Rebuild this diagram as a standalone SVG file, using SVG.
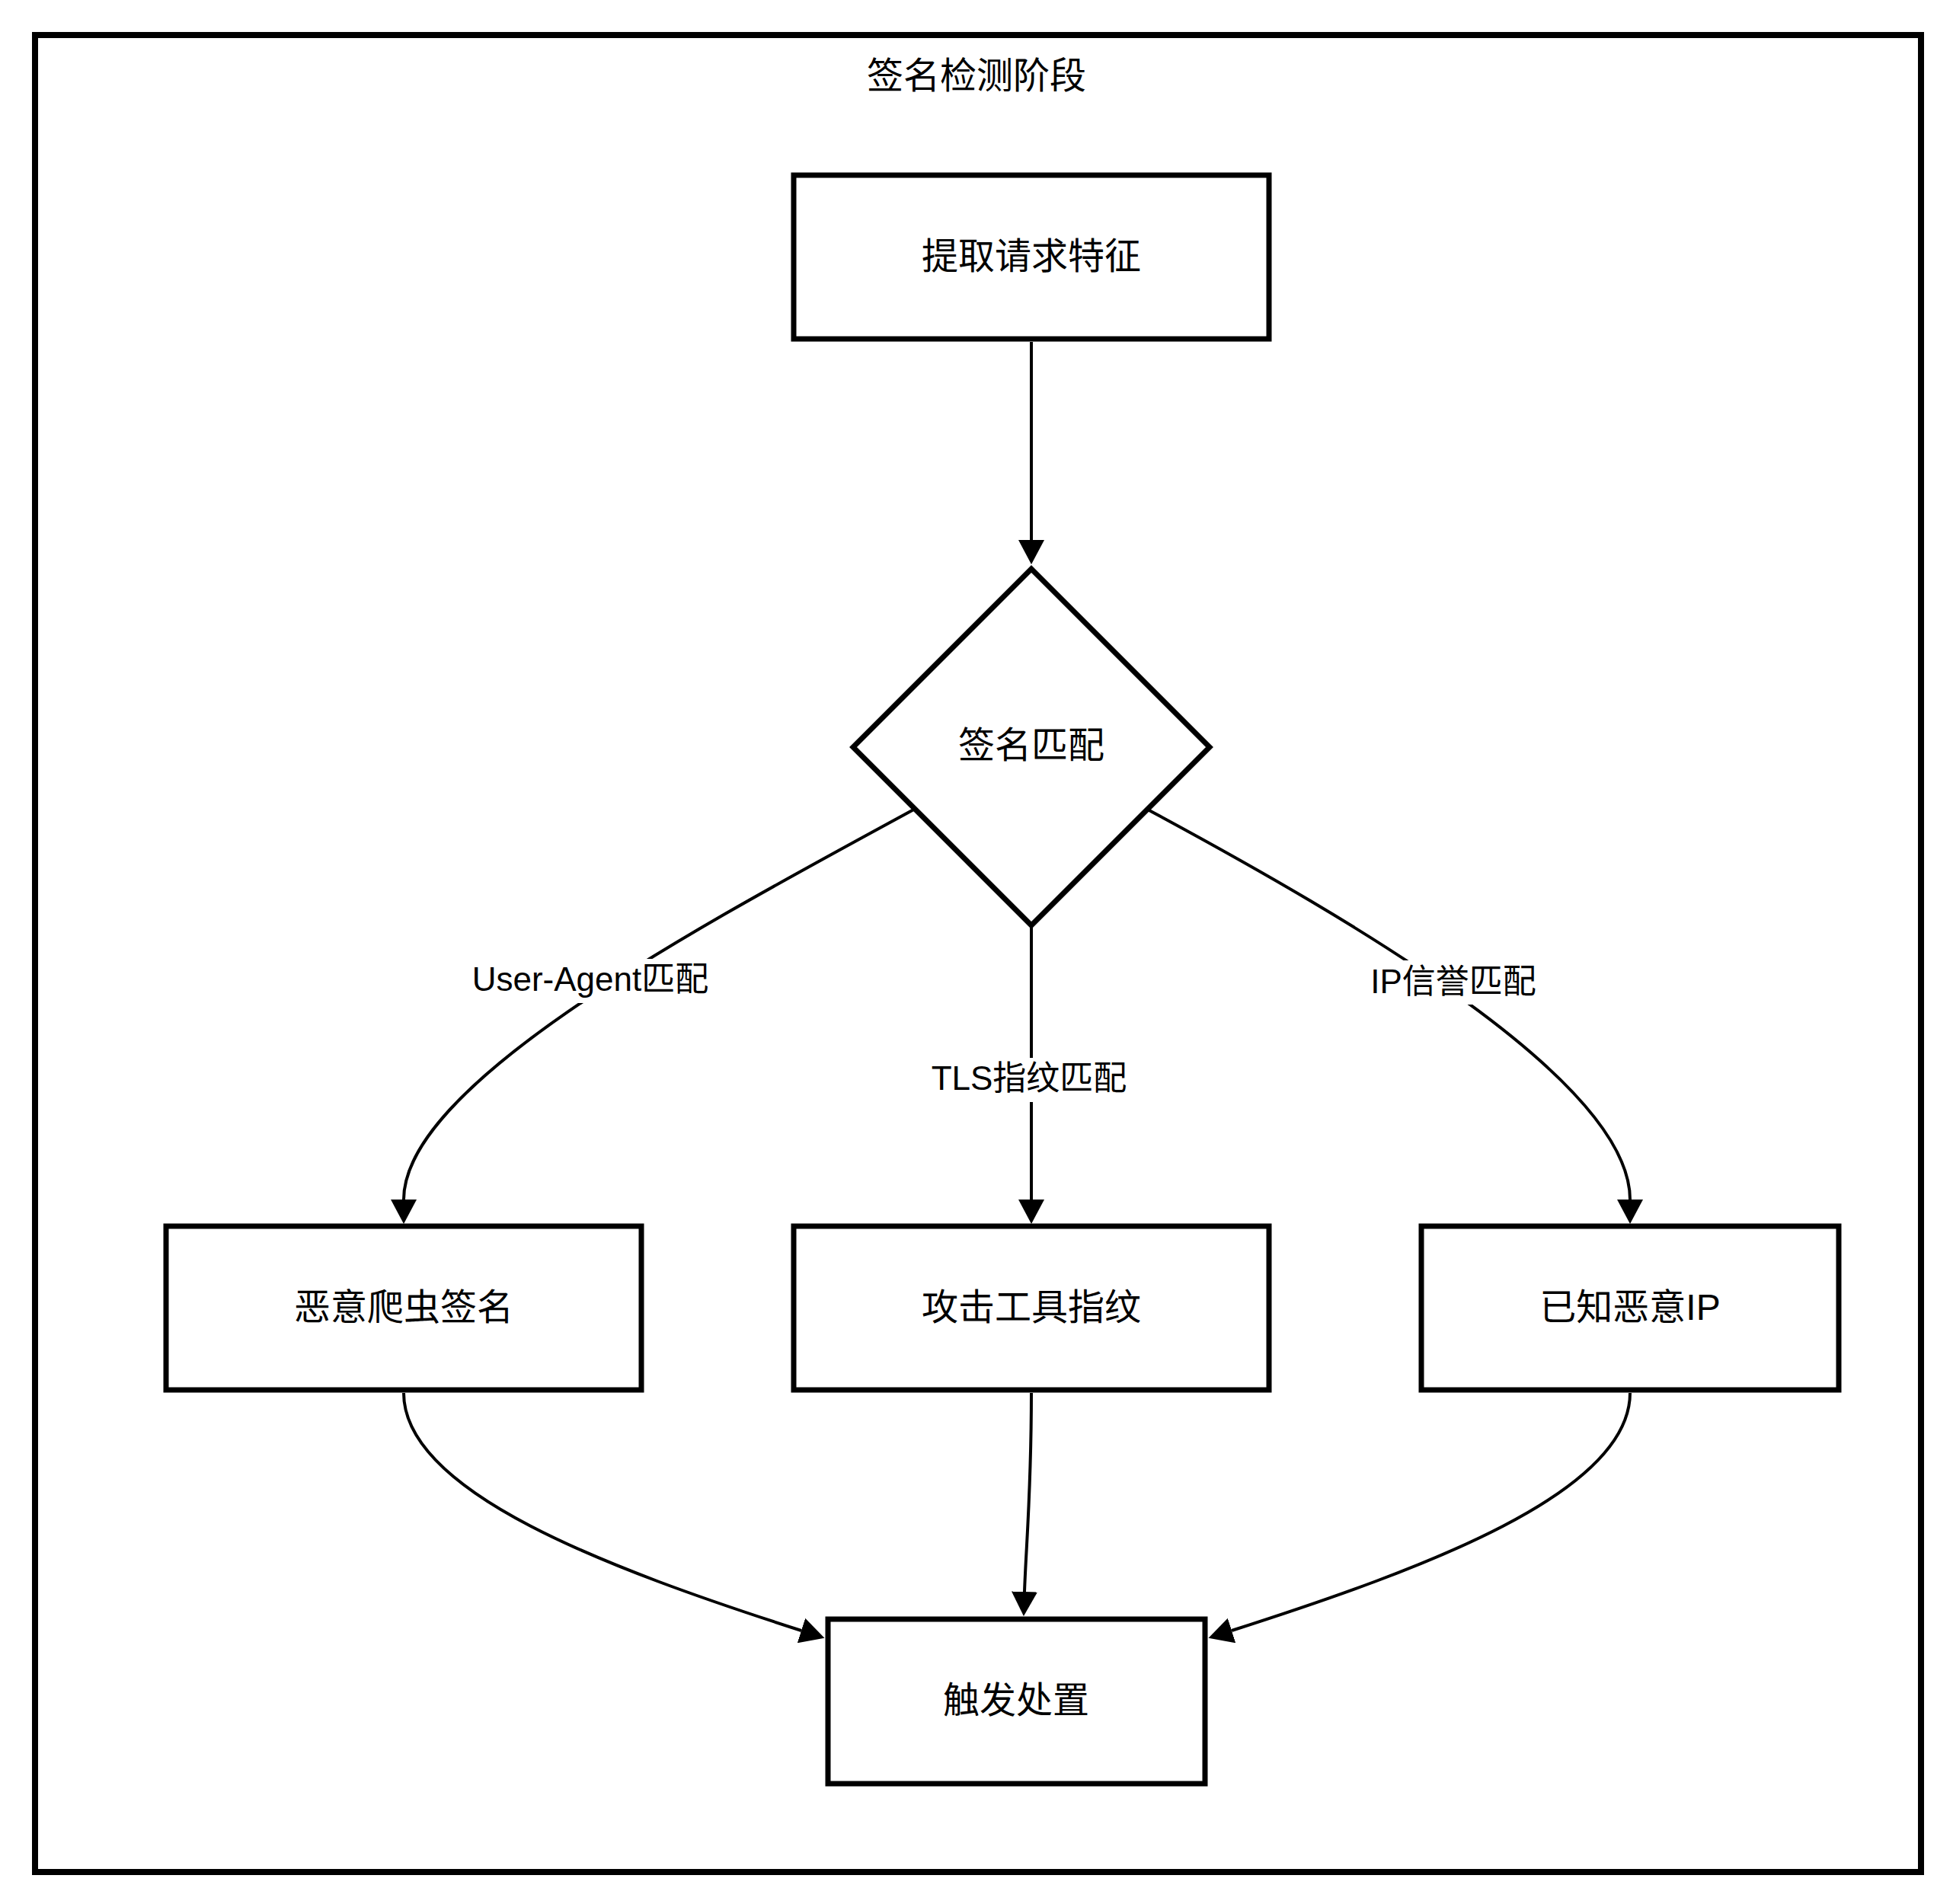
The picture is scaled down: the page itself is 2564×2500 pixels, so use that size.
<svg xmlns="http://www.w3.org/2000/svg" width="2564" height="2500" viewBox="0 0 2564 2500">
<defs>
<style>
.node{fill:#fff;stroke:#000;stroke-width:7;stroke-linejoin:miter}
.frame{fill:none;stroke:#000;stroke-width:8}
.edge{fill:none;stroke:#000;stroke-width:4;marker-end:url(#arrow)}
.t{font-family:"Liberation Sans","Noto Sans CJK SC",sans-serif;fill:#000;text-anchor:middle;dominant-baseline:central}
.nt{font-size:48px}
.lt{font-size:44px}
.lbg{fill:#fff;stroke:none}
</style>
<marker id="arrow" markerUnits="userSpaceOnUse" markerWidth="32" markerHeight="34" refX="0" refY="17" orient="auto" viewBox="0 0 32 34">
<path d="M0,0 L32,17 L0,34 z" fill="#000"/>
</marker>
</defs>
<rect x="0" y="0" width="2564" height="2500" fill="#fff"/>
<g id="cluster">
<rect class="frame" x="46" y="46" width="2476" height="2412"/>
<text class="t nt" x="1282" y="99">签名检测阶段</text>
</g>
<g id="connectors">
<path class="edge" d="M1354,449 L1354,709"/>
<path class="edge" d="M1205,1060 C930,1210 530,1420 530,1575"/>
<path class="edge" d="M1354,1214 L1354,1575"/>
<path class="edge" d="M1505,1062 C1780,1210 2140,1420 2140,1575"/>
<path class="edge" d="M530,1829 C530,1960 800,2060 1052,2141"/>
<path class="edge" d="M1354,1829 C1354,1960 1347,2030 1345,2090"/>
<path class="edge" d="M2140,1829 C2140,1960 1870,2060 1617,2141"/>
<rect class="lbg" x="617" y="1259" width="316" height="58"/>
<text class="t lt" x="775" y="1285">User-Agent匹配</text>
<rect class="lbg" x="1218" y="1389" width="264" height="58"/>
<text class="t lt" x="1351" y="1415">TLS指纹匹配</text>
<rect class="lbg" x="1796" y="1261" width="224" height="58"/>
<text class="t lt" x="1908" y="1288">IP信誉匹配</text>
</g>
<g id="n_extract">
<rect class="node" x="1042" y="230" width="624" height="215"/>
<text class="t nt" x="1354" y="336">提取请求特征</text>
</g>
<g id="n_match">
<polygon class="node" points="1354,747 1588,981 1354,1215 1120,981"/>
<text class="t nt" x="1354" y="978">签名匹配</text>
</g>
<g id="n_crawler">
<rect class="node" x="218" y="1610" width="624" height="215"/>
<text class="t nt" x="530" y="1716">恶意爬虫签名</text>
</g>
<g id="n_tool">
<rect class="node" x="1042" y="1610" width="624" height="215"/>
<text class="t nt" x="1354" y="1716">攻击工具指纹</text>
</g>
<g id="n_ip">
<rect class="node" x="1866" y="1610" width="548" height="215"/>
<text class="t nt" x="2140" y="1716">已知恶意IP</text>
</g>
<g id="n_action">
<rect class="node" x="1087" y="2126" width="495" height="216"/>
<text class="t nt" x="1334" y="2232">触发处置</text>
</g>
</svg>
